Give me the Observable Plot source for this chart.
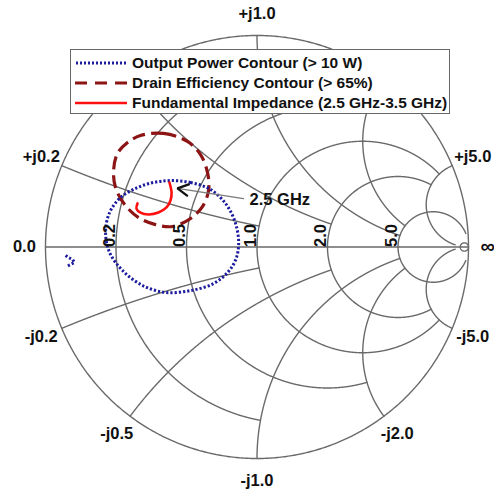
<!DOCTYPE html>
<html><head><meta charset="utf-8">
<script src="https://cdn.jsdelivr.net/npm/d3@7"></script>
<script src="https://cdn.jsdelivr.net/npm/@observablehq/plot@0.6"></script>
<style>
body{margin:0;background:#fff;font-family:"Liberation Sans",Arial,Helvetica,sans-serif;}
#wrap{position:relative;width:494px;height:491px;}
#legend{position:absolute;left:70px;top:49px;width:380px;height:65px;background:#fff;border:1px solid #666;box-sizing:border-box;font-weight:bold;font-size:15.5px;color:#111;}
.row{position:absolute;left:4px;height:20px;display:flex;align-items:center;white-space:nowrap;}
.row svg{margin-right:5px;}
</style></head><body>
<div id="wrap"></div>
<script>
// ---- Smith chart grid values ----
const resistanceValues = [0.2, 0.5, 1, 2, 5, 50];
const resistanceLimits = [1, 2, 5, 5, 30, 1000];   // |x| extent of each resistance circle
const reactanceValues  = [0.2, 0.5, 1, 2, 5];
const reactanceLimits  = [1, 2, 5, 5, 30];          // r extent of each reactance arc
const resistanceLabelValues = [0.2, 0.5, 1, 2, 5];
const resistanceLabels = ["0.2", "0.5", "1.0", "2.0", "5.0"];
const reactanceTickValues = [0.2, 1, 5, -0.2, -0.5, -1, -2, -5];
const reactanceTickLabels = ["+j0.2", "+j1.0", "+j5.0", "-j0.2", "-j0.5", "-j1.0", "-j2.0", "-j5.0"];
const axisEndLabels = ["0.0", "\u221E"];
const axisEndRe = [-1.1, 1.09];

// ---- data: reflection coefficient (real, imag) ----
const powerRe = [-0.409, -0.314, -0.220, -0.149, -0.106, -0.087, -0.097, -0.135, -0.206, -0.314, -0.433, -0.541, -0.636, -0.697, -0.716, -0.697, -0.645, -0.565, -0.489];
const powerIm = [0.314, 0.305, 0.272, 0.206, 0.125, 0.031, -0.050, -0.116, -0.173, -0.206, -0.215, -0.182, -0.111, -0.026, 0.069, 0.163, 0.234, 0.281, 0.305];
const powerFragRe = [-0.905, -0.891, -0.872, -0.863, -0.882, -0.901];
const powerFragIm = [-0.040, -0.050, -0.059, -0.073, -0.083, -0.092];
const effRe = [-0.551, -0.442, -0.329, -0.267, -0.234, -0.229, -0.258, -0.314, -0.400, -0.480, -0.560, -0.626, -0.669, -0.678, -0.660, -0.612];
const effIm = [0.527, 0.537, 0.499, 0.437, 0.352, 0.267, 0.191, 0.135, 0.097, 0.106, 0.139, 0.201, 0.281, 0.362, 0.442, 0.494];
const fundRe = [-0.414, -0.404, -0.409, -0.428, -0.466, -0.513, -0.551, -0.570, -0.565];
const fundIm = [0.305, 0.258, 0.220, 0.187, 0.163, 0.154, 0.163, 0.182, 0.206];
// annotation "2.5 GHz"
const annotText = ["2.5 GHz"];
const annotRe = [-0.035];
const annotIm = [0.225];
const arrowFrom = [-0.064, 0.229];
const arrowTo = [-0.376, 0.277];

// ---- legend ----
const legendLabels = ["Output Power Contour (> 10 W)", "Drain Efficiency Contour (> 65%)", "Fundamental Impedance (2.5 GHz-3.5 GHz)"];
const colors = {power: "#1c1ca0", eff: "#8c1414", fund: "#ff1010", grid: "#6a6a6a"};

function gamma(r, x) { const d = (r + 1) ** 2 + x * x; return [(r * r + x * x - 1) / d, 2 * x / d]; }

const grid = [];
resistanceValues.forEach((r, i) => {
  const X = resistanceLimits[i], n = 900;
  for (let k = 0; k <= n; k++) {
    const x = X * (-1 + 2 * k / n);
    const g = gamma(r, x); grid.push({id: "r" + i, re: g[0], im: g[1]});
  }
});
reactanceValues.forEach((xv, i) => {
  const R = reactanceLimits[i], n = 900;
  for (const s of [1, -1]) {
    for (let k = 0; k <= n; k++) {
      const g = gamma(R * k / n, s * xv); grid.push({id: "x" + i + "_" + s, re: g[0], im: g[1]});
    }
  }
});
for (let k = 0; k <= 720; k++) { const a = 2 * Math.PI * k / 720; grid.push({id: "outer", re: Math.cos(a), im: Math.sin(a)}); }
grid.push({id: "axis", re: -1, im: 0}, {id: "axis", re: 1, im: 0});

const power = powerRe.map((v, i) => ({re: v, im: powerIm[i]}));
const powerFrag = powerFragRe.map((v, i) => ({re: v, im: powerFragIm[i]}));
const eff = effRe.map((v, i) => ({re: v, im: effIm[i]}));
const fund = fundRe.map((v, i) => ({re: v, im: fundIm[i]}));

const rLab = resistanceLabelValues.map((r, i) => ({re: gamma(r, 0)[0] - 1.5 / 211.5, im: 0, t: resistanceLabels[i]}));
const xLab = reactanceTickValues.map((x, i) => { const g = gamma(0, x); return {re: 1.105 * g[0], im: 1.105 * g[1], t: reactanceTickLabels[i]}; });

// arrowhead wings (open "V" at the tip), 12px long, ±28°
const unit = 1 / 211.5;
const dir = Math.atan2(arrowFrom[1] - arrowTo[1], arrowFrom[0] - arrowTo[0]);
const head = [dir + 0.49, null, dir - 0.49].map(a => a === null
  ? {re: arrowTo[0], im: arrowTo[1]}
  : {re: arrowTo[0] + 12 * unit * Math.cos(a), im: arrowTo[1] + 12 * unit * Math.sin(a)});
const shaft = [{re: arrowFrom[0], im: arrowFrom[1]}, {re: arrowTo[0], im: arrowTo[1]}];

const font = "Liberation Sans, Arial, Helvetica, sans-serif";
const plot = Plot.plot({
  width: 494, height: 491,
  marginLeft: 45, marginRight: 26, marginTop: 35, marginBottom: 33,
  x: {domain: [-1, 1], axis: null},
  y: {domain: [-1, 1], axis: null},
  style: {background: "white", fontFamily: font, overflow: "visible"},
  marks: [
    Plot.line(grid, {x: "re", y: "im", z: "id", stroke: colors.grid, strokeWidth: 1.4}),
    Plot.line(eff, {x: "re", y: "im", stroke: colors.eff, strokeWidth: 3.2, strokeDasharray: "13,6", strokeLinecap: "butt", curve: "catmull-rom-closed"}),
    Plot.line(power, {x: "re", y: "im", stroke: colors.power, strokeWidth: 3, strokeDasharray: "2.2,2", strokeLinecap: "butt", curve: "catmull-rom-closed"}),
    Plot.line(powerFrag, {x: "re", y: "im", stroke: colors.power, strokeWidth: 3, strokeDasharray: "2.2,2", strokeLinecap: "butt"}),
    Plot.line(fund, {x: "re", y: "im", stroke: colors.fund, strokeWidth: 2.6, curve: "catmull-rom"}),
    Plot.line(shaft, {x: "re", y: "im", stroke: "#7a7a7a", strokeWidth: 1.3}),
    Plot.line(head, {x: "re", y: "im", stroke: "#111", strokeWidth: 2.4, strokeLinejoin: "miter"}),
    Plot.text(annotText, {x: (d, i) => annotRe[i], y: (d, i) => annotIm[i], text: d => d, textAnchor: "start", fontSize: 16.5, fontWeight: "bold", fill: "#111"}),
    Plot.text(rLab, {x: "re", y: "im", text: "t", rotate: -90, textAnchor: "start", lineAnchor: "bottom", fontSize: 16.5, fontWeight: "bold", fill: "#111"}),
    Plot.text(xLab, {x: "re", y: "im", text: "t", textAnchor: "middle", fontSize: 16.5, fontWeight: "bold", fill: "#111"}),
    Plot.text(axisEndLabels, {x: (d, i) => axisEndRe[i], y: () => 0, text: d => d, textAnchor: "middle", fontSize: (d, i) => i === 1 ? 20 : 16.5, fontWeight: "bold", fill: "#111"})
  ]
});

const wrap = document.getElementById("wrap");
wrap.appendChild(plot);

const legend = document.createElement("div");
legend.id = "legend";
const samples = [
  `<svg width="52" height="6"><line x1="1" y1="3" x2="52" y2="3" stroke="${colors.power}" stroke-width="3" stroke-dasharray="2,2"/></svg>`,
  `<svg width="52" height="6"><line x1="0" y1="3" x2="52" y2="3" stroke="${colors.eff}" stroke-width="3" stroke-dasharray="12,8"/></svg>`,
  `<svg width="52" height="6"><line x1="0" y1="3" x2="52" y2="3" stroke="${colors.fund}" stroke-width="2.6"/></svg>`
];
legendLabels.forEach((t, i) => {
  const row = document.createElement("div");
  row.className = "row";
  row.style.top = (3 + 20 * i) + "px";
  row.innerHTML = samples[i] + "<span></span>";
  row.querySelector("span").textContent = t;
  legend.appendChild(row);
});
wrap.appendChild(legend);
</script>
</body></html>
